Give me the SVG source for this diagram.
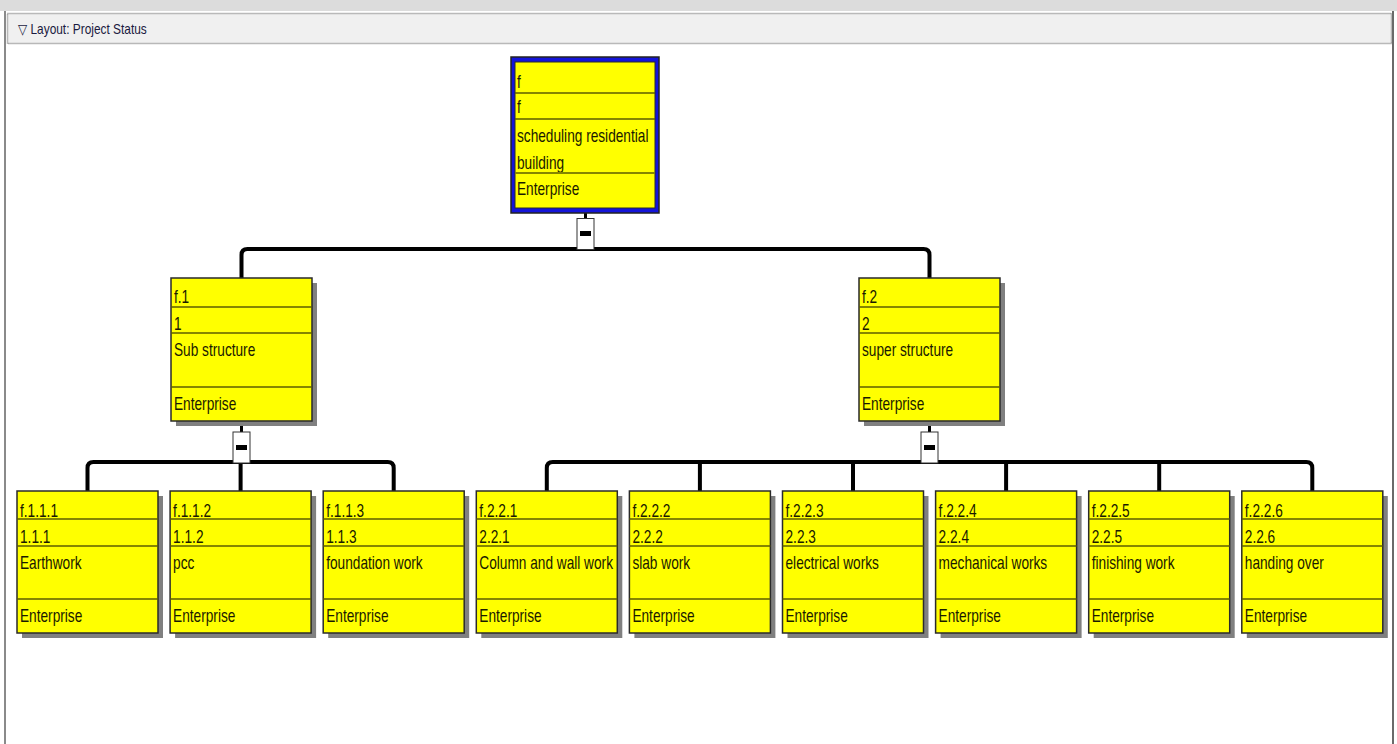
<svg xmlns="http://www.w3.org/2000/svg" width="1397" height="744" viewBox="0 0 1397 744">
<defs>
<style>
.t{font-family:"Liberation Sans",Arial,sans-serif;font-size:18px;fill:#1a1a00}
.h{font-family:"Liberation Sans",Arial,sans-serif;font-size:14px;fill:#1a1a40}
.sh{fill:#808080}
.bx{fill:#ffff00;stroke:#2a2a2a;stroke-width:1.5}
.dv{stroke:#5c5c00;stroke-width:1.5}
.cn{fill:none;stroke:#000;stroke-width:4;stroke-linejoin:round}
.cv{fill:none;stroke:#000;stroke-width:3}
.cb{fill:#fff;stroke:#333;stroke-width:1}
</style>
</defs>
<rect x="0" y="0" width="1397" height="744" fill="#fff"/>
<rect x="0" y="0" width="1397" height="11" fill="#dcdcdc"/>
<line x1="5" y1="11" x2="5" y2="744" stroke="#8a8a8a" stroke-width="2"/>
<line x1="1393" y1="11" x2="1393" y2="744" stroke="#6a6a6a" stroke-width="2"/>
<rect x="7.5" y="13.5" width="1384" height="30" fill="#f0f0f0" stroke="#7a7a7a" stroke-width="1.5" stroke-dasharray="1 1"/>
<text class="h" transform="translate(18,34) scale(0.85,1)">▽ Layout: Project Status</text>

<g id="connectors">
<line class="cv" x1="585.5" y1="213" x2="585.5" y2="230"/>
<path class="cn" d="M241.5,278 V255 Q241.5,249 247.5,249 H923.5 Q929.5,249 929.5,255 V278"/>
<line class="cv" x1="241.5" y1="421" x2="241.5" y2="440"/>
<path class="cn" d="M87.5,491 V468 Q87.5,462 93.5,462 H387.7 Q393.7,462 393.7,468 V491"/>
<line class="cn" x1="240.6" y1="462" x2="240.6" y2="491"/>
<line class="cv" x1="929.5" y1="421" x2="929.5" y2="440"/>
<path class="cn" d="M546.8,491 V468 Q546.8,462 552.8,462 H1306.3 Q1312.3,462 1312.3,468 V491"/>
<line class="cn" x1="699.9" y1="462" x2="699.9" y2="491"/>
<line class="cn" x1="853" y1="462" x2="853" y2="491"/>
<line class="cn" x1="1006.1" y1="462" x2="1006.1" y2="491"/>
<line class="cn" x1="1159.2" y1="462" x2="1159.2" y2="491"/>
<rect class="cb" x="577" y="218.5" width="17" height="31"/>
<rect x="580" y="231" width="11" height="5" fill="#000"/>
<rect class="cb" x="233" y="432" width="17" height="31"/>
<rect x="236" y="445" width="11" height="5" fill="#000"/>
<rect class="cb" x="921" y="432" width="17" height="31"/>
<rect x="924" y="445" width="11" height="5" fill="#000"/>
</g>

<g id="node-f">
<rect x="511" y="57" width="148" height="156" fill="#1414d8" stroke="#222" stroke-width="1.5"/>
<rect x="515" y="62" width="140" height="146" fill="#ffff00" stroke="#2a2a2a" stroke-width="1"/>
<line class="dv" x1="515" y1="93" x2="655" y2="93"/>
<line class="dv" x1="515" y1="119" x2="655" y2="119"/>
<text class="t" transform="translate(517,88) scale(0.76,1)">f</text>
<text class="t" transform="translate(517,113) scale(0.76,1)">f</text>
<text class="t" transform="translate(517,142) scale(0.76,1)">scheduling residential</text>
<text class="t" transform="translate(517,169) scale(0.76,1)">building</text>
<rect x="515" y="172" width="140" height="2" fill="#ffff00"/>
<line class="dv" x1="515" y1="173" x2="655" y2="173"/>
<text class="t" transform="translate(517,195) scale(0.76,1)">Enterprise</text>
</g>

<g id="node-f1">
<rect class="sh" x="176" y="283" width="141" height="143"/>
<rect class="bx" x="171" y="278" width="141" height="143"/>
<line class="dv" x1="171" y1="307" x2="312" y2="307"/>
<line class="dv" x1="171" y1="333" x2="312" y2="333"/>
<line class="dv" x1="171" y1="387" x2="312" y2="387"/>
<text class="t" transform="translate(174,303) scale(0.76,1)">f.1</text>
<text class="t" transform="translate(174,330) scale(0.76,1)">1</text>
<text class="t" transform="translate(174,356) scale(0.76,1)">Sub structure</text>
<text class="t" transform="translate(174,410) scale(0.76,1)">Enterprise</text>
</g>

<g id="node-f2">
<rect class="sh" x="864" y="283" width="141" height="143"/>
<rect class="bx" x="859" y="278" width="141" height="143"/>
<line class="dv" x1="859" y1="307" x2="1000" y2="307"/>
<line class="dv" x1="859" y1="333" x2="1000" y2="333"/>
<line class="dv" x1="859" y1="387" x2="1000" y2="387"/>
<text class="t" transform="translate(862,303) scale(0.76,1)">f.2</text>
<text class="t" transform="translate(862,330) scale(0.76,1)">2</text>
<text class="t" transform="translate(862,356) scale(0.76,1)">super structure</text>
<text class="t" transform="translate(862,410) scale(0.76,1)">Enterprise</text>
</g>

<g id="node-f111">
<rect class="sh" x="22" y="496" width="141" height="142"/>
<rect class="bx" x="17" y="491" width="141" height="142"/>
<line class="dv" x1="17" y1="519" x2="158" y2="519"/>
<line class="dv" x1="17" y1="546" x2="158" y2="546"/>
<line class="dv" x1="17" y1="599" x2="158" y2="599"/>
<text class="t" transform="translate(20,517) scale(0.76,1)">f.1.1.1</text>
<text class="t" transform="translate(20,543) scale(0.76,1)">1.1.1</text>
<text class="t" transform="translate(20,569) scale(0.76,1)">Earthwork</text>
<text class="t" transform="translate(20,622) scale(0.76,1)">Enterprise</text>
</g>

<g id="node-f112">
<rect class="sh" x="175.1" y="496" width="141" height="142"/>
<rect class="bx" x="170.1" y="491" width="141" height="142"/>
<line class="dv" x1="170.1" y1="519" x2="311.1" y2="519"/>
<line class="dv" x1="170.1" y1="546" x2="311.1" y2="546"/>
<line class="dv" x1="170.1" y1="599" x2="311.1" y2="599"/>
<text class="t" transform="translate(173.1,517) scale(0.76,1)">f.1.1.2</text>
<text class="t" transform="translate(173.1,543) scale(0.76,1)">1.1.2</text>
<text class="t" transform="translate(173.1,569) scale(0.76,1)">pcc</text>
<text class="t" transform="translate(173.1,622) scale(0.76,1)">Enterprise</text>
</g>

<g id="node-f113">
<rect class="sh" x="328.2" y="496" width="141" height="142"/>
<rect class="bx" x="323.2" y="491" width="141" height="142"/>
<line class="dv" x1="323.2" y1="519" x2="464.2" y2="519"/>
<line class="dv" x1="323.2" y1="546" x2="464.2" y2="546"/>
<line class="dv" x1="323.2" y1="599" x2="464.2" y2="599"/>
<text class="t" transform="translate(326.2,517) scale(0.76,1)">f.1.1.3</text>
<text class="t" transform="translate(326.2,543) scale(0.76,1)">1.1.3</text>
<text class="t" transform="translate(326.2,569) scale(0.76,1)">foundation work</text>
<text class="t" transform="translate(326.2,622) scale(0.76,1)">Enterprise</text>
</g>

<g id="node-f221">
<rect class="sh" x="481.3" y="496" width="141" height="142"/>
<rect class="bx" x="476.3" y="491" width="141" height="142"/>
<line class="dv" x1="476.3" y1="519" x2="617.3" y2="519"/>
<line class="dv" x1="476.3" y1="546" x2="617.3" y2="546"/>
<line class="dv" x1="476.3" y1="599" x2="617.3" y2="599"/>
<text class="t" transform="translate(479.3,517) scale(0.76,1)">f.2.2.1</text>
<text class="t" transform="translate(479.3,543) scale(0.76,1)">2.2.1</text>
<text class="t" transform="translate(479.3,569) scale(0.76,1)">Column and wall work</text>
<text class="t" transform="translate(479.3,622) scale(0.76,1)">Enterprise</text>
</g>

<g id="node-f222">
<rect class="sh" x="634.4" y="496" width="141" height="142"/>
<rect class="bx" x="629.4" y="491" width="141" height="142"/>
<line class="dv" x1="629.4" y1="519" x2="770.4" y2="519"/>
<line class="dv" x1="629.4" y1="546" x2="770.4" y2="546"/>
<line class="dv" x1="629.4" y1="599" x2="770.4" y2="599"/>
<text class="t" transform="translate(632.4,517) scale(0.76,1)">f.2.2.2</text>
<text class="t" transform="translate(632.4,543) scale(0.76,1)">2.2.2</text>
<text class="t" transform="translate(632.4,569) scale(0.76,1)">slab work</text>
<text class="t" transform="translate(632.4,622) scale(0.76,1)">Enterprise</text>
</g>

<g id="node-f223">
<rect class="sh" x="787.5" y="496" width="141" height="142"/>
<rect class="bx" x="782.5" y="491" width="141" height="142"/>
<line class="dv" x1="782.5" y1="519" x2="923.5" y2="519"/>
<line class="dv" x1="782.5" y1="546" x2="923.5" y2="546"/>
<line class="dv" x1="782.5" y1="599" x2="923.5" y2="599"/>
<text class="t" transform="translate(785.5,517) scale(0.76,1)">f.2.2.3</text>
<text class="t" transform="translate(785.5,543) scale(0.76,1)">2.2.3</text>
<text class="t" transform="translate(785.5,569) scale(0.76,1)">electrical works</text>
<text class="t" transform="translate(785.5,622) scale(0.76,1)">Enterprise</text>
</g>

<g id="node-f224">
<rect class="sh" x="940.6" y="496" width="141" height="142"/>
<rect class="bx" x="935.6" y="491" width="141" height="142"/>
<line class="dv" x1="935.6" y1="519" x2="1076.6" y2="519"/>
<line class="dv" x1="935.6" y1="546" x2="1076.6" y2="546"/>
<line class="dv" x1="935.6" y1="599" x2="1076.6" y2="599"/>
<text class="t" transform="translate(938.6,517) scale(0.76,1)">f.2.2.4</text>
<text class="t" transform="translate(938.6,543) scale(0.76,1)">2.2.4</text>
<text class="t" transform="translate(938.6,569) scale(0.76,1)">mechanical works</text>
<text class="t" transform="translate(938.6,622) scale(0.76,1)">Enterprise</text>
</g>

<g id="node-f225">
<rect class="sh" x="1093.7" y="496" width="141" height="142"/>
<rect class="bx" x="1088.7" y="491" width="141" height="142"/>
<line class="dv" x1="1088.7" y1="519" x2="1229.7" y2="519"/>
<line class="dv" x1="1088.7" y1="546" x2="1229.7" y2="546"/>
<line class="dv" x1="1088.7" y1="599" x2="1229.7" y2="599"/>
<text class="t" transform="translate(1091.7,517) scale(0.76,1)">f.2.2.5</text>
<text class="t" transform="translate(1091.7,543) scale(0.76,1)">2.2.5</text>
<text class="t" transform="translate(1091.7,569) scale(0.76,1)">finishing work</text>
<text class="t" transform="translate(1091.7,622) scale(0.76,1)">Enterprise</text>
</g>

<g id="node-f226">
<rect class="sh" x="1246.8" y="496" width="141" height="142"/>
<rect class="bx" x="1241.8" y="491" width="141" height="142"/>
<line class="dv" x1="1241.8" y1="519" x2="1382.8" y2="519"/>
<line class="dv" x1="1241.8" y1="546" x2="1382.8" y2="546"/>
<line class="dv" x1="1241.8" y1="599" x2="1382.8" y2="599"/>
<text class="t" transform="translate(1244.8,517) scale(0.76,1)">f.2.2.6</text>
<text class="t" transform="translate(1244.8,543) scale(0.76,1)">2.2.6</text>
<text class="t" transform="translate(1244.8,569) scale(0.76,1)">handing over</text>
<text class="t" transform="translate(1244.8,622) scale(0.76,1)">Enterprise</text>
</g>
</svg>
